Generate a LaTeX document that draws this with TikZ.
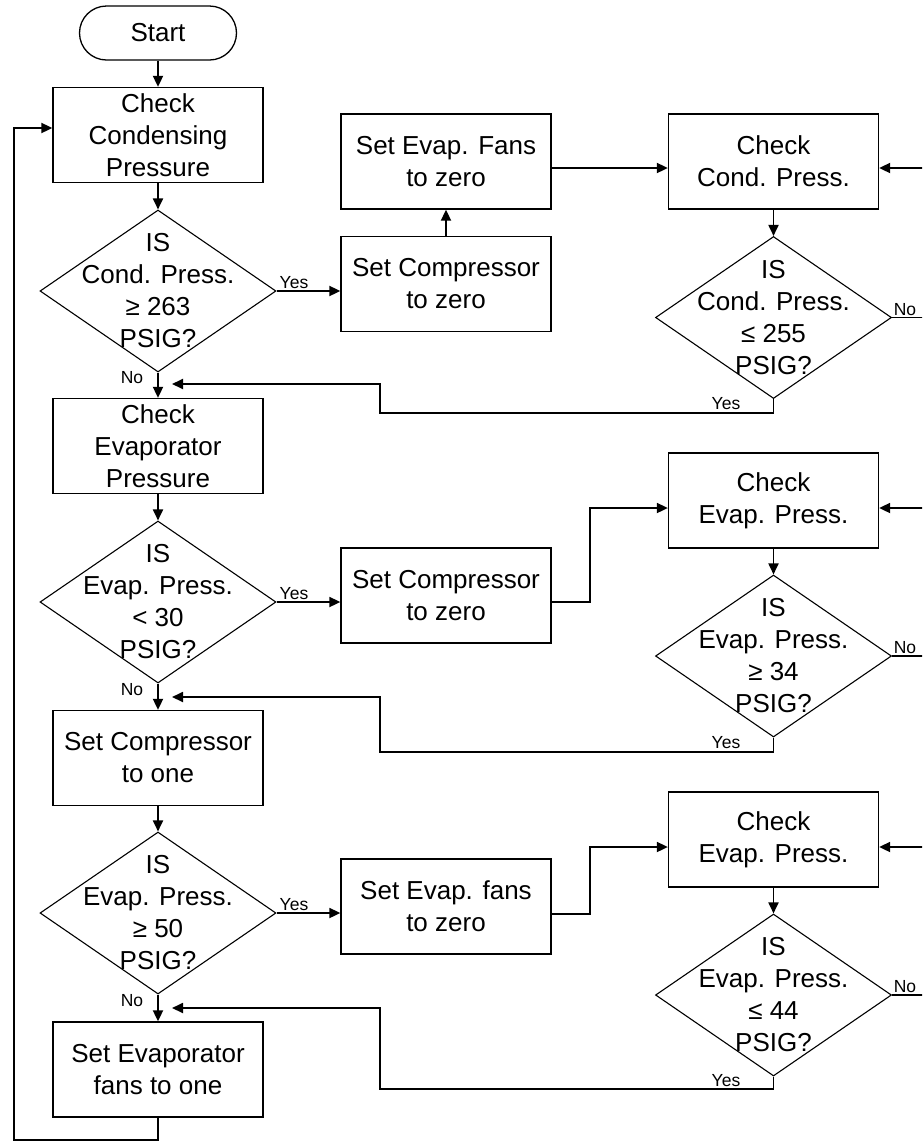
\documentclass[tikz,border=0pt]{standalone}
\usepackage{fontspec}
\setmainfont{Liberation Sans}
\usetikzlibrary{arrows.meta,shapes.geometric}
\begin{document}
\begin{tikzpicture}[x=1pt,y=-1pt,
  box/.style={draw,line width=1.3pt,minimum width=210pt,minimum height=95pt,inner sep=0pt,align=center,font=\fontsize{26}{32}\selectfont},
  term/.style={draw,line width=1.3pt,rounded corners=27pt,minimum width=157pt,minimum height=54pt,inner sep=0pt,font=\fontsize{26}{32}\selectfont},
  dia/.style={draw,line width=1.1pt,diamond,minimum width=236pt,minimum height=162pt,inner sep=0pt},
  dtext/.style={align=center,inner sep=0pt,font=\fontsize{26}{32}\selectfont},
  arr/.style={line width=1.8pt,-{Triangle[length=11pt,width=10pt]}},
  lbl/.style={inner sep=0pt,font=\fontsize{17.5}{19}\selectfont}]
\useasboundingbox (0,0) rectangle (922,1144);
\clip (0,0) rectangle (922,1144);
% left column
\node[term] (start) at (158,33) {Start};
\node[box] (b1) at (158,135) {Check\\Condensing\\Pressure};
\node[dia] (d1) at (158,291) {};
\node[dtext] (t1) at (d1.center) {IS\\Cond. Press.\\≥ 263\\PSIG?};
\node[box] (b2) at (158,446) {Check\\Evaporator\\Pressure};
\node[dia] (d3) at (158,602) {};
\node[dtext] (t3) at (d3.center) {IS\\Evap. Press.\\< 30\\PSIG?};
\node[box] (b3) at (158,758) {Set Compressor\\to one};
\node[dia] (d5) at (158,913) {};
\node[dtext] (t5) at (d5.center) {IS\\Evap. Press.\\≥ 50\\PSIG?};
\node[box] (b4) at (158,1069.5) {Set Evaporator\\fans to one};
% middle column
\node[box] (sef) at (446,161.5) {Set Evap. Fans\\to zero};
\node[box] (scz1) at (446,284) {Set Compressor\\to zero};
\node[box] (scz2) at (446,595.5) {Set Compressor\\to zero};
\node[box] (sef2) at (446,906.5) {Set Evap. fans\\to zero};
% right column
\node[box] (ccp) at (773.5,161.5) {Check\\Cond. Press.};
\node[dia] (d2) at (773.5,317.5) {};
\node[dtext] (t2) at (d2.center) {IS\\Cond. Press.\\≤ 255\\PSIG?};
\node[box] (cep2) at (773.5,500.5) {Check\\Evap. Press.};
\node[dia] (d4) at (773.5,656) {};
\node[dtext] (t4) at (d4.center) {IS\\Evap. Press.\\≥ 34\\PSIG?};
\node[box] (cep3) at (773.5,839.5) {Check\\Evap. Press.};
\node[dia] (d6) at (773.5,995) {};
\node[dtext] (t6) at (d6.center) {IS\\Evap. Press.\\≤ 44\\PSIG?};
% helper coordinates
\coordinate (r1) at (172,384);
\coordinate (r2) at (172,697);
\coordinate (r3) at (172,1008);
\coordinate (e1) at (942,168);
\coordinate (e2) at (942,508);
\coordinate (e3) at (942,847);
% main flow
\draw[arr] (start.south) -- (b1.north);
\draw[arr] (b1.south) -- (d1.north);
\draw[arr] (d1.south) -- (b2.north);
\draw[arr] (b2.south) -- (d3.north);
\draw[arr] (d3.south) -- (b3.north);
\draw[arr] (b3.south) -- (d5.north);
\draw[arr] (d5.south) -- (b4.north);
\draw[arr] (b4.south) -- (158,1140) -- (14,1140) -- (14,128) -- (b1.west |- 0,128);
% yes branches
\draw[arr] (d1.east) -- (scz1.west |- d1.east);
\draw[arr] (scz1.north) -- (sef.south);
\draw[arr] (sef.east |- 0,168) -- (ccp.west |- 0,168);
\draw[arr] (ccp.south) -- (d2.north);
\draw[arr] (d3.east) -- (scz2.west |- d3.east);
\draw[arr] (scz2.east |- 0,602) -- (590,602) -- (590,508) -- (cep2.west |- 0,508);
\draw[arr] (cep2.south) -- (d4.north);
\draw[arr] (d5.east) -- (sef2.west |- d5.east);
\draw[arr] (sef2.east |- 0,914) -- (590,914) -- (590,847) -- (cep3.west |- 0,847);
\draw[arr] (cep3.south) -- (d6.north);
% right loops (No)
\draw[arr] (d2.east) -- (e1 |- d2.east) -- (e1) -- (ccp.east |- e1);
\draw[arr] (d4.east) -- (e2 |- d4.east) -- (e2) -- (cep2.east |- e2);
\draw[arr] (d6.east) -- (e3 |- d6.east) -- (e3) -- (cep3.east |- e3);
% returns (Yes)
\draw[arr] (d2.south) -- (773.5,413) -- (380,413) -- (380,384) -- (r1);
\draw[arr] (d4.south) -- (773.5,752) -- (380,752) -- (380,697) -- (r2);
\draw[arr] (d6.south) -- (773.5,1089) -- (380,1089) -- (380,1008) -- (r3);
% labels
\node[lbl] (y1) at (294,283) {Yes};
\node[lbl] (y3) at (294,594) {Yes};
\node[lbl] (y5) at (294,905) {Yes};
\node[lbl] (n1) at (132,378) {No};
\node[lbl] (n3) at (132,690) {No};
\node[lbl] (n5) at (132,1001) {No};
\node[lbl] (n2) at (905,310) {No};
\node[lbl] (n4) at (905,648) {No};
\node[lbl] (n6) at (905,987) {No};
\node[lbl] (y2) at (726,404) {Yes};
\node[lbl] (y4) at (726,743) {Yes};
\node[lbl] (y6) at (726,1081) {Yes};
\end{tikzpicture}
\end{document}
